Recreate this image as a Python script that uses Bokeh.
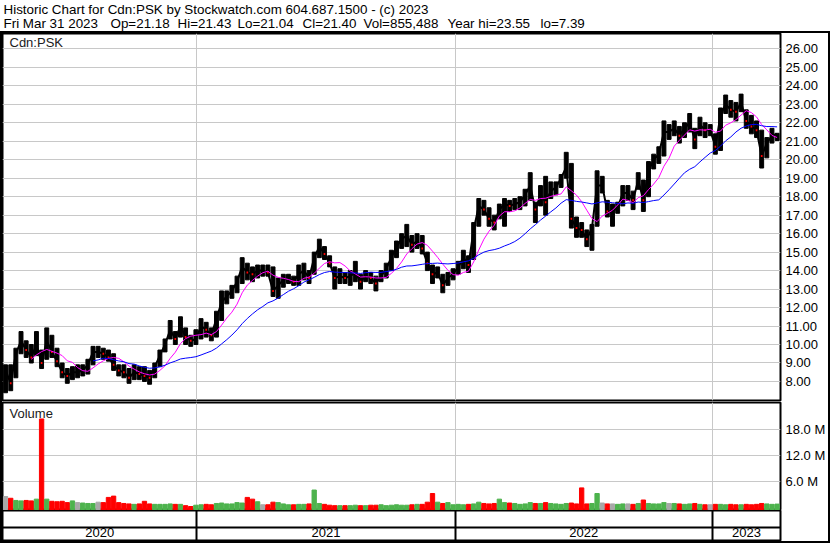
from bokeh.plotting import figure
from bokeh.layouts import column
from bokeh.models import Range1d, FixedTicker, Label, Span, ColumnDataSource
from bokeh.core.properties import value
from bokeh.embed import file_html
from bokeh.resources import INLINE

# ---------------- data (weekly) ----------------
header_line1 = "Historic Chart for Cdn:PSK by Stockwatch.com 604.687.1500 - (c) 2023"
header_fields = ["Fri Mar 31 2023", "Op=21.18", "Hi=21.43", "Lo=21.04", "Cl=21.40",
                 "Vol=855,488", "Year hi=23.55", "lo=7.39"]
header_field_x = [3, 110, 177, 237, 302, 363, 447, 540]

week_high = [8.9, 8.9, 9.8, 10.7, 10.2, 10.0, 10.7, 9.7, 10.9, 10.5,
             9.8, 9.0, 8.7, 8.8, 8.9, 8.9, 9.2, 9.9, 9.9, 9.8,
             9.7, 9.5, 8.9, 8.9, 8.7, 8.9, 8.8, 8.8, 8.6, 9.0,
             9.7, 10.3, 11.3, 10.7, 11.5, 10.9, 10.5, 10.8, 11.4, 11.2,
             10.9, 11.8, 12.9, 12.9, 13.2, 13.7, 14.7, 14.4, 14.2, 14.3,
             14.3, 14.3, 14.2, 13.6, 13.8, 13.8, 13.7, 14.3, 14.4, 14.0,
             15.0, 15.7, 15.3, 14.8, 14.2, 14.1, 13.9, 14.0, 14.5, 13.8,
             14.0, 13.9, 13.7, 14.0, 14.4, 15.1, 15.6, 16.0, 16.5, 15.9,
             16.0, 15.9, 15.0, 14.3, 14.2, 13.8, 13.9, 14.1, 14.5, 15.1,
             14.8, 16.6, 17.9, 17.8, 17.4, 17.0, 17.6, 17.9, 17.8, 17.9,
             18.0, 18.4, 19.3, 17.7, 18.6, 19.1, 18.8, 18.8, 19.2, 20.4,
             19.8, 16.9, 16.6, 16.2, 16.5, 19.4, 19.1, 17.8, 17.6, 17.7,
             18.6, 18.6, 18.3, 19.3, 18.9, 19.9, 20.3, 20.7, 22.1, 21.9,
             22.1, 21.8, 22.0, 22.5, 21.7, 22.3, 22.0, 21.9, 21.4, 22.8,
             23.5, 23.2, 23.1, 23.55, 22.7, 22.4, 22.1, 21.6, 21.2, 21.7,
             21.43]
week_low = [7.39, 7.5, 8.2, 9.5, 9.3, 9.0, 9.4, 8.7, 9.2, 9.3,
            8.8, 8.2, 7.9, 8.1, 8.2, 8.3, 8.4, 8.9, 9.3, 9.2,
            9.1, 8.6, 8.3, 8.2, 7.9, 8.1, 8.1, 8.0, 7.85, 8.2,
            8.8, 9.6, 10.3, 10.0, 10.4, 10.0, 9.9, 10.0, 10.3, 10.4,
            10.2, 10.4, 11.3, 12.2, 12.5, 12.8, 13.3, 13.5, 13.4, 13.6,
            13.7, 13.7, 12.6, 12.5, 13.1, 13.3, 13.2, 13.2, 13.5, 13.3,
            13.8, 14.7, 14.6, 14.2, 13.0, 13.3, 13.3, 13.2, 13.4, 13.0,
            13.4, 13.3, 12.9, 13.4, 13.6, 14.0, 14.7, 15.2, 15.3, 15.0,
            15.2, 14.9, 14.0, 13.3, 13.6, 12.8, 13.2, 13.5, 13.8, 14.1,
            13.9, 14.6, 16.4, 17.0, 16.4, 16.2, 16.8, 16.4, 17.2, 17.3,
            17.3, 17.5, 17.8, 16.6, 17.5, 17.0, 17.9, 18.1, 18.5, 19.0,
            16.3, 15.8, 15.8, 15.3, 15.1, 16.4, 18.2, 16.9, 16.4, 17.1,
            17.5, 17.8, 17.3, 18.4, 17.2, 18.0, 19.5, 19.8, 20.2, 21.1,
            21.3, 20.9, 21.2, 21.5, 20.6, 21.3, 21.2, 21.3, 20.3, 20.5,
            22.5, 22.3, 22.1, 22.6, 21.7, 21.4, 21.2, 19.55, 20.1, 20.9,
            21.04]
week_close = [8.6, 7.9, 9.5, 10.2, 9.7, 9.3, 10.0, 9.0, 10.2, 9.6,
              9.1, 8.5, 8.3, 8.5, 8.5, 8.6, 8.9, 9.6, 9.6, 9.5,
              9.3, 8.9, 8.6, 8.5, 8.2, 8.5, 8.4, 8.3, 8.2, 8.8,
              9.4, 10.0, 10.8, 10.3, 11.0, 10.4, 10.2, 10.3, 11.0, 10.8,
              10.5, 11.4, 12.3, 12.6, 12.9, 13.4, 14.2, 13.9, 13.8, 14.0,
              14.0, 13.9, 12.9, 13.2, 13.5, 13.6, 13.4, 13.8, 14.0, 13.6,
              14.7, 15.3, 14.9, 14.4, 13.6, 13.7, 13.6, 13.7, 13.9, 13.4,
              13.7, 13.6, 13.3, 13.7, 14.1, 14.7, 15.3, 15.7, 15.9, 15.4,
              15.6, 15.2, 14.4, 13.8, 13.9, 13.2, 13.6, 13.8, 14.2, 14.7,
              14.3, 16.2, 17.5, 17.3, 16.8, 16.6, 17.3, 17.6, 17.5, 17.6,
              17.7, 18.1, 18.6, 17.3, 18.1, 17.7, 18.3, 18.5, 19.0, 19.6,
              16.8, 16.3, 16.2, 15.7, 16.3, 18.6, 18.6, 17.2, 17.2, 17.4,
              18.2, 18.2, 17.8, 18.9, 17.8, 19.4, 20.0, 20.3, 21.5, 21.5,
              21.7, 21.3, 21.7, 22.0, 21.1, 21.9, 21.6, 21.6, 20.7, 22.4,
              23.0, 22.7, 22.6, 23.1, 22.1, 21.8, 21.6, 20.2, 20.9, 21.3,
              21.40]
week_volume_m = [2.6, 2.2, 1.7, 1.6, 1.7, 1.6, 2.0, 20.5, 2.0, 1.5,
                 1.4, 1.5, 1.2, 1.6, 1.2, 1.1, 1.0, 1.0, 1.3, 1.2,
                 2.4, 2.7, 1.2, 1.0, 0.9, 0.8, 0.9, 1.5, 0.9, 0.8,
                 0.8, 0.8, 0.9, 0.8, 0.8, 0.5, 0.3, 0.6, 0.7, 0.8,
                 0.7, 1.0, 1.1, 0.9, 0.9, 1.2, 1.1, 2.4, 2.0, 1.4,
                 0.7, 0.7, 1.3, 1.2, 0.9, 0.7, 0.7, 0.8, 0.8, 0.9,
                 4.1, 1.0, 0.8, 0.6, 0.5, 0.5, 0.5, 0.5, 0.6, 0.5,
                 0.5, 0.6, 0.6, 0.7, 0.5, 0.6, 0.7, 0.6, 0.6, 0.7,
                 0.8, 0.8, 1.3, 3.3, 1.3, 1.0, 1.2, 0.7, 0.8, 0.7,
                 0.8, 0.9, 1.3, 1.0, 0.9, 1.0, 2.0, 1.2, 1.1, 1.0,
                 0.8, 0.9, 1.2, 1.0, 1.0, 1.2, 1.0, 0.9, 0.8, 1.0,
                 1.1, 0.9, 4.6, 0.9, 1.0, 3.3, 1.1, 0.9, 0.9, 0.8,
                 0.9, 0.9, 0.8, 1.0, 1.8, 1.0, 0.9, 0.9, 1.2, 1.0,
                 1.0, 0.9, 0.8, 0.9, 1.0, 0.8, 0.7, 0.7, 0.8, 0.8,
                 0.7, 0.8, 0.7, 0.7, 0.8, 0.7, 0.8, 1.0, 0.9, 0.8,
                 0.86]

days_per_week = 5
year_start_day = [188, 439, 689]          # trading-day index where 2021, 2022, 2023 begin
year_labels = ["2020", "2021", "2022", "2023"]
price_ticks = [8, 9, 10, 11, 12, 13, 14, 15, 16, 17, 18, 19, 20, 21, 22, 23, 24, 25, 26]
price_tick_labels = ["8.00", "9.00", "10.00", "11.00", "12.00", "13.00", "14.00", "15.00",
                     "16.00", "17.00", "18.00", "19.00", "20.00", "21.00", "22.00", "23.00",
                     "24.00", "25.00", "26.00"]
volume_ticks = [6, 12, 18]
volume_tick_labels = ["6.0 M", "12.0 M", "18.0 M"]
ma_short_weeks = 6      # ~30 trading days (magenta)
ma_long_weeks = 18      # ~90 trading days (blue)

# ---------------- derived ----------------
n = len(week_close)
xs = [days_per_week * k + 2 for k in range(n)]


def sma(vals, w):
    return [sum(vals[i - w + 1:i + 1]) / w for i in range(w - 1, len(vals))]


ma_s = sma(week_close, ma_short_weeks)
ma_l = sma(week_close, ma_long_weeks)

vol_colors = []
down_x, down_c = [], []
for k in range(n):
    prev = week_close[k - 1] if k > 0 else week_close[k]
    if week_close[k] < prev:
        vol_colors.append("#ff0000")
        down_x.append(xs[k])
        down_c.append(week_close[k])
    elif week_close[k] > prev:
        vol_colors.append("#4db34d")
    else:
        vol_colors.append("#a8a8a8")

src = ColumnDataSource(dict(x=xs, high=week_high, low=week_low, close=week_close,
                            vol=week_volume_m, color=vol_colors))

FONT = "Liberation Sans"
GRID = "#c8c8c8"
XR = Range1d(-1, 755.3)
FIG_W = 826
RB = 47
BAR_W = 3.8
VBAR_W = 4.2


def style_axis(ax):
    ax.axis_line_color = None
    ax.major_tick_line_color = None
    ax.minor_tick_line_color = None
    ax.major_tick_out = 0
    ax.major_tick_in = 0
    ax.minor_tick_out = 0
    ax.minor_tick_in = 0
    ax.major_label_text_font = FONT
    ax.major_label_text_font_size = "13px"
    ax.major_label_text_color = "black"
    ax.major_label_standoff = 5


# ---------------- header ----------------
hp = figure(width=830, height=31, x_range=Range1d(0, 830), y_range=Range1d(0, 31),
            x_axis_location=None, y_axis_location=None, toolbar_location=None,
            output_backend="svg", outline_line_color=None, min_border=0)
hp.grid.visible = False
hp.add_layout(Label(x=3, y=22.5, text=header_line1, text_font=FONT,
                    text_font_size="13.4px", text_color="black",
                    text_baseline="alphabetic"))
for fx, ft in zip(header_field_x, header_fields):
    hp.add_layout(Label(x=fx, y=8, text=ft, text_font=FONT,
                        text_font_size="13.4px", text_color="black",
                        text_baseline="alphabetic"))

# ---------------- price ----------------
pp = figure(width=FIG_W, height=369, x_range=XR, y_range=Range1d(6.97, 26.83),
            x_axis_location=None, y_axis_location="right", toolbar_location=None,
            output_backend="svg", min_border_left=0, min_border_top=0,
            min_border_bottom=2, min_border_right=RB,
            outline_line_color="black", outline_line_width=2)
pp.yaxis.ticker = FixedTicker(ticks=price_ticks)
pp.yaxis.major_label_overrides = dict(zip(price_ticks, price_tick_labels))
style_axis(pp.yaxis[0])
pp.ygrid.grid_line_color = GRID
pp.xgrid.ticker = FixedTicker(ticks=year_start_day)
pp.xgrid.grid_line_color = GRID

pp.line(x="x", y="close", source=src, color="black", line_width=2)
pp.vbar(x="x", top="high", bottom="low", width=BAR_W, color="black", source=src)
pp.rect(x=down_x, y=down_c, width=1.6, height=2, height_units="screen",
        color="#ff0000", line_width=0)
pp.line(xs[ma_short_weeks - 1:], ma_s, color="#ff00ff", line_width=1)
pp.line(xs[ma_long_weeks - 1:], ma_l, color="#0000ff", line_width=1)
pp.add_layout(Label(x=5.8, y=26.37, text="Cdn:PSK", text_font=FONT,
                    text_font_size="13px", text_color="#202020",
                    text_baseline="alphabetic"))

# ---------------- volume ----------------
vlo = -0.62
vp = figure(width=FIG_W, height=108, x_range=XR, y_range=Range1d(vlo, 24.3),
            x_axis_location=None, y_axis_location="right", toolbar_location=None,
            output_backend="svg", min_border_left=0, min_border_top=0,
            min_border_bottom=0, min_border_right=RB,
            outline_line_color="black", outline_line_width=2)
vp.yaxis.ticker = FixedTicker(ticks=volume_ticks)
vp.yaxis.major_label_overrides = dict(zip(volume_ticks, volume_tick_labels))
style_axis(vp.yaxis[0])
vp.ygrid.grid_line_color = GRID
vp.xgrid.ticker = FixedTicker(ticks=year_start_day)
vp.xgrid.grid_line_color = GRID
vp.vbar(x="x", top="vol", bottom=vlo, width=VBAR_W, color="color", source=src)
vp.add_layout(Label(x=5.8, y=21.7, text="Volume", text_font=FONT,
                    text_font_size="13px", text_color="#202020",
                    text_baseline="alphabetic"))

# ---------------- date band ----------------
bounds = [XR.start] + year_start_day + [XR.end]
mids = [(bounds[i] + bounds[i + 1]) / 2 for i in range(len(year_labels))]
dp = figure(width=FIG_W, height=31, x_range=XR, y_range=Range1d(0, 1),
            x_axis_location=None, y_axis_location=None, toolbar_location=None,
            output_backend="svg", min_border_left=0, min_border_top=0,
            min_border_bottom=0, min_border_right=RB,
            outline_line_color="black", outline_line_width=2)
dp.xgrid.ticker = FixedTicker(ticks=year_start_day)
dp.xgrid.grid_line_color = "black"
dp.xgrid.grid_line_width = 2
dp.ygrid.visible = False
dp.add_layout(Span(location=0.45, dimension="width", line_color="black", line_width=2))
dp.text(x=mids, y=[0.28] * len(mids), text=year_labels, text_font=value(FONT),
        text_font_size="13px", text_align="center", text_baseline="middle",
        text_color="black")

body = column(pp, vp, dp, spacing=0, styles={"border": "2px solid black"})
layout = column(hp, body, spacing=0)

open("out.html", "w").write(file_html(layout, INLINE))
